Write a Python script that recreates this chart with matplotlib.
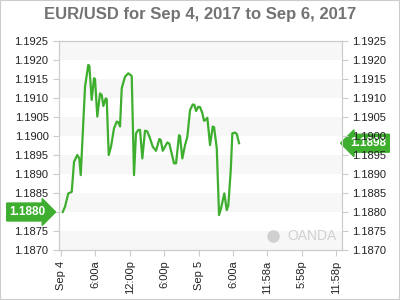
import matplotlib
matplotlib.use("Agg")
import matplotlib.pyplot as plt
from matplotlib.patches import Rectangle

plt.rcParams['font.family'] = ['Liberation Sans', 'DejaVu Sans']

# hours since Sep 4 00:00
hours = [0.30, 0.70, 1.27, 1.87, 2.27, 2.84, 3.19, 3.44, 4.19, 4.76, 4.94, 5.35, 5.76, 5.93,
         6.33, 6.80, 7.10, 7.38, 7.80, 7.97, 8.32, 8.72, 9.24, 9.72, 10.00, 10.29, 10.59,
         11.16, 11.74, 12.33, 12.73, 13.08, 13.48, 13.78, 14.18, 14.65, 15.05, 15.52, 15.99,
         16.57, 17.15, 17.39, 17.74, 18.54, 18.89, 19.71, 20.06, 20.58, 20.75, 21.16, 21.63,
         22.03, 22.50, 22.97, 23.25, 23.55, 23.95, 24.25, 24.65, 24.94, 25.17, 25.52, 25.99,
         26.46, 26.69, 27.16, 27.56, 27.91, 28.48, 28.90, 29.18, 29.60, 29.88, 30.35, 30.65,
         31.05]
rates = [1.18800, 1.18814, 1.18849, 1.18853, 1.18932, 1.18950, 1.18941, 1.18897, 1.19130,
         1.19187, 1.19185, 1.19095, 1.19152, 1.19150, 1.19051, 1.19112, 1.19108, 1.19079,
         1.19099, 1.19097, 1.18950, 1.18972, 1.19020, 1.19038, 1.19036, 1.19025, 1.19126,
         1.19156, 1.19165, 1.19158, 1.18897, 1.19007, 1.19016, 1.19016, 1.18941, 1.19014,
         1.19012, 1.18994, 1.18972, 1.18961, 1.18992, 1.18990, 1.18961, 1.18983, 1.18980,
         1.18928, 1.18928, 1.19002, 1.19000, 1.18941, 1.18976, 1.18998, 1.19068, 1.19083,
         1.19082, 1.19066, 1.19077, 1.19076, 1.19060, 1.19040, 1.19042, 1.19048, 1.18976,
         1.19025, 1.19023, 1.18968, 1.18792, 1.18810, 1.18849, 1.18805, 1.18818, 1.18910,
         1.19007, 1.19009, 1.19005, 1.18981]

tick_hours = [0, 6, 12, 18, 24, 30, 35.97, 41.97, 47.97]
tick_labels = ['Sep 4', '6:00a', '12:00p', '6:00p', 'Sep 5', '6:00a', '11:58a', '5:58p', '11:58p']
y_ticks = [1.1870, 1.1875, 1.1880, 1.1885, 1.1890, 1.1895, 1.1900, 1.1905, 1.1910, 1.1915,
           1.1920, 1.1925]
open_label = '1.1880'
last_label = '1.1898'

green = '#3eae2e'
grid_gray = '#cccccc'

fig = plt.figure(figsize=(4, 3), dpi=100)
fig.patches.append(Rectangle((0, 0), 1, 1, transform=fig.transFigure, fill=False,
                             edgecolor='#cccccc', linewidth=1.5))
ax = fig.add_axes([59 / 400, 1 - 250 / 300, 283 / 400, 209 / 300])

# alternating bands
for i in range(0, len(y_ticks) - 1, 2):
    ax.axhspan(y_ticks[i], y_ticks[i + 1], color='#f7f7f7', lw=0, zorder=0)

ax.plot(hours, rates, color=green, linewidth=1.6, zorder=3)

ax.set_xlim(-0.35, 49.0)
ax.set_ylim(1.1870, 1.1925)
ax.set_yticks(y_ticks)
ax.set_yticklabels(['%.4f' % v for v in y_ticks])
ax.set_xticks(tick_hours)
ax.set_xticklabels(tick_labels, rotation=90)
ax.tick_params(labelsize=8, colors='#222222', length=4, width=0.8, direction='out')
ax.tick_params(axis='both', color=grid_gray)
for sp in ax.spines.values():
    sp.set_color(grid_gray)

ax2 = ax.twinx()
ax2.set_ylim(ax.get_ylim())
ax2.set_yticks(y_ticks)
ax2.set_yticklabels(['%.4f' % v for v in y_ticks])
ax2.tick_params(labelsize=8, colors='#222222', length=4, width=0.8, color=grid_gray)
for sp in ax2.spines.values():
    sp.set_color(grid_gray)

fig.text(0.5, 1 - 14 / 300, 'EUR/USD for Sep 4, 2017 to Sep 6, 2017', ha='center', va='center',
         fontsize=12, fontweight='bold', color='#737373')

# price labels
ax.annotate(open_label, xy=(0, rates[0]), xycoords=('axes fraction', 'data'),
            xytext=(-22.5, 0), textcoords='offset points', ha='center', va='center',
            fontsize=8.5, fontweight='bold', color='white', annotation_clip=False,
            bbox=dict(boxstyle='rarrow,pad=0.25', fc=green, ec=green), zorder=5)
ax.annotate(last_label, xy=(1, rates[-1]), xycoords=('axes fraction', 'data'),
            xytext=(19, 0), textcoords='offset points', ha='center', va='center',
            fontsize=8.5, fontweight='bold', color='white', annotation_clip=False,
            bbox=dict(boxstyle='larrow,pad=0.25', fc=green, ec=green), zorder=5)

# watermark
ax.text(0.98, 0.067, 'OANDA', transform=ax.transAxes, ha='right', va='center',
        fontsize=10, color='#d0d0d0', zorder=1)
ax.plot([0.755], [0.067], 'o', transform=ax.transAxes, color='#d0d0d0', markersize=8, zorder=1)

fig.savefig('out.png', dpi=100)
